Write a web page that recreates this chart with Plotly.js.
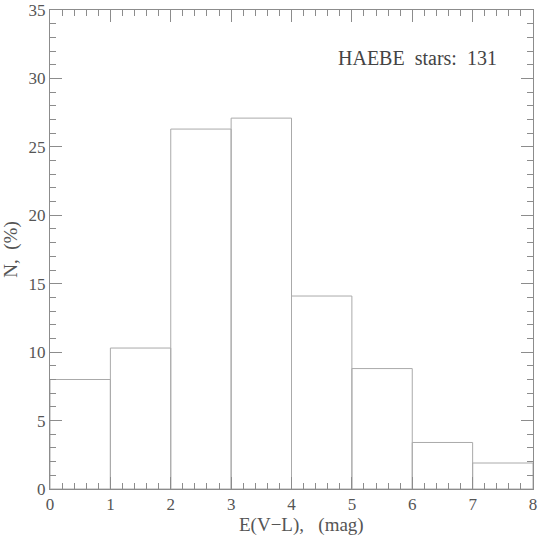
<!DOCTYPE html>
<html>
<head>
<meta charset="utf-8">
<script src="https://cdn.plot.ly/plotly-3.0.1.min.js"></script>
<style>
  html, body { margin: 0; padding: 0; background: #fff; }
  #plotDiv { width: 538px; height: 537px; }
</style>
</head>
<body>
<div id="plotDiv"></div>
<script>
// histogram of E(V-L) for HAEBE stars
const binCenters = [0.5, 1.5, 2.5, 3.5, 4.5, 5.5, 6.5, 7.5];
const percents = [8.0, 10.3, 26.3, 27.1, 14.1, 8.8, 3.4, 1.9];
const starCount = 131;

const axisColor = '#8c8c8c';
const fontFamily = 'Liberation Serif, DejaVu Serif, serif';
const font = {family: fontFamily, size: 17, color: '#555'};

const traceHist = {
    type: 'bar',
    x: binCenters,
    y: percents,
    width: 1,
    marker: {color: 'rgba(0,0,0,0)', line: {color: '#aaa', width: 1}},
    hoverinfo: 'x+y'
};

const plotHeight = 537 - 10 - 48;

const layout = {
    width: 538,
    height: 537,
    margin: {l: 50, r: 5, t: 10, b: 48},
    paper_bgcolor: '#fff',
    plot_bgcolor: '#fff',
    showlegend: false,
    font: font,
    xaxis: {
        range: [0, 8],
        dtick: 1,
        ticks: 'inside',
        ticklen: 12,
        tickcolor: axisColor,
        ticklabeloverflow: 'allow',
        showline: true,
        linecolor: axisColor,
        mirror: 'ticks',
        showgrid: false,
        zeroline: false,
        minor: {dtick: 0.2, ticks: 'inside', ticklen: 6, tickcolor: axisColor}
    },
    yaxis: {
        range: [0, 35],
        dtick: 5,
        ticks: 'inside',
        ticklen: 12,
        tickcolor: axisColor,
        ticklabeloverflow: 'allow',
        showline: true,
        linecolor: axisColor,
        mirror: 'ticks',
        showgrid: false,
        zeroline: false,
        minor: {dtick: 1, ticks: 'inside', ticklen: 6, tickcolor: axisColor},
        title: {text: 'N,  (%)', font: {family: fontFamily, size: 19, color: '#555'}, standoff: 6}
    },
    annotations: [{
        xref: 'paper', yref: 'paper',
        x: 0.93, y: 0.9, xanchor: 'right', yanchor: 'middle',
        text: 'HAEBE  stars:  ' + starCount,
        showarrow: false,
        font: {family: fontFamily, size: 20, color: '#444'}
    }, {
        // x axis title, placed by hand so it sits below the tick labels
        xref: 'paper', yref: 'paper',
        x: 0.52, y: -48 / plotHeight, xanchor: 'center', yanchor: 'bottom',
        text: 'E(V\u2212L),   (mag)',
        showarrow: false,
        borderpad: 0,
        font: {family: fontFamily, size: 19, color: '#555'}
    }]
};

Plotly.newPlot('plotDiv', [traceHist], layout, {displayModeBar: false}).catch(error => {
    console.error('Error in plot:', error);
});
</script>
</body>
</html>
